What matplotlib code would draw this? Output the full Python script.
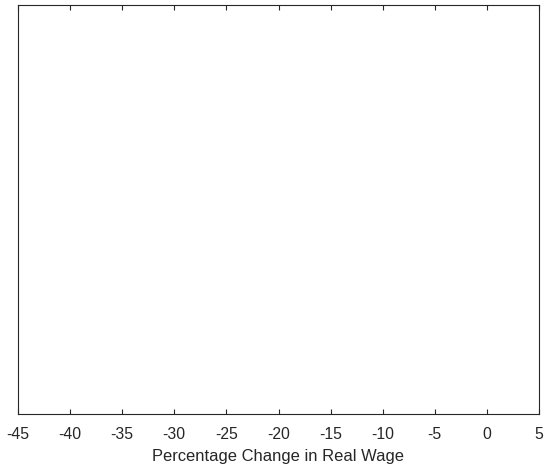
import matplotlib
matplotlib.use("Agg")
import matplotlib.pyplot as plt

# Axe des x (aucune série tracée dans la figure d'origine)
x_limits = [-45, 5]
x_ticks = [-45, -40, -35, -30, -25, -20, -15, -10, -5, 0, 5]
x_label = "Percentage Change in Real Wage"

plt.rcParams["font.family"] = ["Liberation Sans", "DejaVu Sans"]

fig = plt.figure(figsize=(5.44, 4.70), dpi=100)
ax = fig.add_axes([18 / 544, 56 / 470, 521 / 544, 409 / 470])

edge = "#262626"
ax.set_xlim(x_limits)
ax.set_ylim(0, 1)
ax.set_xticks(x_ticks)
ax.set_xticklabels([str(t) for t in x_ticks], fontsize=11.3, color=edge)
ax.set_yticks([])
ax.tick_params(axis="x", direction="in", length=3.6, width=0.8, color=edge,
               top=True, bottom=True, pad=9.5)
for side in ax.spines.values():
    side.set_color(edge)
    side.set_linewidth(0.8)
ax.set_xlabel(x_label, fontsize=11.9, color=edge, labelpad=5)

fig.savefig("out.png", dpi=100)
